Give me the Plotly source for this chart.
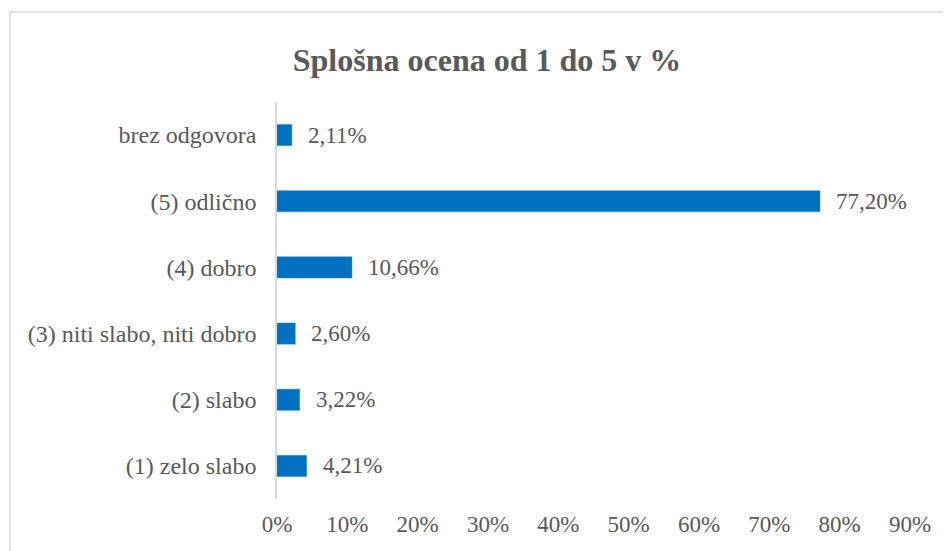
import plotly.graph_objects as go

categories = ["(1) zelo slabo", "(2) slabo", "(3) niti slabo, niti dobro",
              "(4) dobro", "(5) odlično", "brez odgovora"]
values = [4.21, 3.22, 2.60, 10.66, 77.20, 2.11]
tick_vals = [0, 10, 20, 30, 40, 50, 60, 70, 80, 90]
tick_text = [f"{v}%" for v in tick_vals]
title_text = "Splošna ocena od 1 do 5 v %"

FONT = "Liberation Serif, Times New Roman, serif"
GRAY = "#595959"

W, H = 943, 543
L, R, T, B = 269, 41, 94, 52
PW, PH = W - L - R, H - T - B

fig = go.Figure()
fig.add_trace(go.Bar(
    x=values, y=categories, orientation="h",
    marker=dict(color="#0070C0", line=dict(color="#2E86D0", width=0.5)),
    hoverinfo="skip",
))

for v, c in zip(values, categories):
    fig.add_annotation(
        x=v, y=c, xref="x", yref="y",
        text=f"{v:.2f}%".replace(".", ","),
        showarrow=False, xanchor="left", yanchor="middle",
        xshift=14, font=dict(family=FONT, size=23, color=GRAY),
    )

fig.add_shape(type="rect", xref="paper", yref="paper",
              x0=(2 - L) / PW, x1=1.2, y0=-0.3, y1=(H - B - 4) / PH,
              line=dict(color="#D9D9D9", width=1.5), layer="below")

fig.update_layout(
    width=W, height=H,
    margin=dict(l=L, r=R, t=T, b=B),
    paper_bgcolor="white", plot_bgcolor="white",
    bargap=0.68,
    showlegend=False,
    title=dict(text=f"<b>{title_text}</b>", x=479 / W, xanchor="center",
               y=1 - 52 / H, yanchor="middle", xref="container", yref="container",
               font=dict(family=FONT, size=32, color=GRAY)),
    font=dict(family=FONT, color=GRAY, size=23),
)
fig.update_xaxes(range=[0, 90], tickvals=tick_vals, ticktext=tick_text,
                 showgrid=False, zeroline=False, showline=False,
                 ticks="", ticklabelstandoff=9,
                 tickfont=dict(family=FONT, size=23, color=GRAY), fixedrange=True)
fig.update_yaxes(categoryorder="array", categoryarray=categories,
                 showgrid=False, zeroline=False, showline=True,
                 linecolor="#D9D9D9", linewidth=1.5, ticks="",
                 ticklabelstandoff=14,
                 tickfont=dict(family=FONT, size=24, color=GRAY), fixedrange=True)

fig.write_html("out.html")
